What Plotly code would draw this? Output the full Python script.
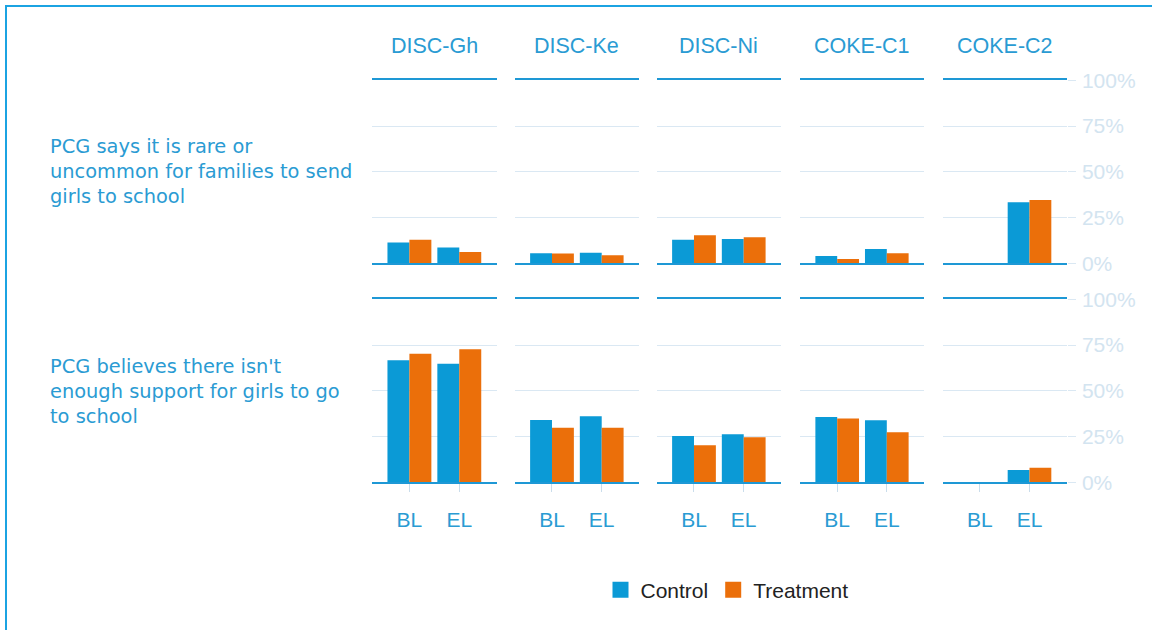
import plotly.graph_objects as go
from plotly.subplots import make_subplots

# Sites shown as facet columns and the two survey rounds on each x axis
sites = ["DISC-Gh", "DISC-Ke", "DISC-Ni", "COKE-C1", "COKE-C2"]
rounds = ["BL", "EL"]
indicators = [
    "PCG says it is rare or<br>uncommon for families to send<br>girls to school",
    "PCG believes there isn't<br>enough support for girls to go<br>to school",
]

# Share of primary caregivers (%), per site: [BL, EL]
rare_control = [[11.3, 8.7], [5.5, 5.8], [12.9, 13.3], [4.0, 7.8], [None, 33.3]]
rare_treatment = [[12.9, 6.2], [5.4, 4.4], [15.3, 14.2], [2.4, 5.5], [None, 34.6]]
support_control = [[66.7, 64.8], [34.0, 36.1], [25.3, 26.2], [35.7, 33.9], [None, 6.7]]
support_treatment = [[70.3, 72.7], [29.8, 29.8], [20.2, 24.6], [34.8, 27.3], [None, 8.0]]

pct_ticks = [0, 25, 50, 75, 100]

BLUE = "#0B9AD6"
ORANGE = "#EB6F0A"
TEXT_BLUE = "#2A9BD3"
LINE_BLUE = "#1E98D5"
PALE = "#DAE8F3"
PALE_TEXT = "#D3E4F0"

W, H = 1152, 630
col_px = [(372, 496.7), (514.7, 639), (656.7, 781), (800, 924), (942.7, 1066.7)]
row_px = [(80.3, 263.3), (299.3, 482.3)]

fig = make_subplots(rows=2, cols=5)

rows_data = [(rare_control, rare_treatment), (support_control, support_treatment)]
for r, (ctrl, trt) in enumerate(rows_data):
    for c in range(5):
        fig.add_trace(go.Bar(x=rounds, y=ctrl[c], marker_color=BLUE, marker_line_width=0,
                             name="Control", showlegend=False), row=r + 1, col=c + 1)
        fig.add_trace(go.Bar(x=rounds, y=trt[c], marker_color=ORANGE, marker_line_width=0,
                             name="Treatment", showlegend=False), row=r + 1, col=c + 1)

# legend entries
for name, color in [("Control", BLUE), ("Treatment", ORANGE)]:
    fig.add_trace(go.Scatter(x=[None], y=[None], mode="markers", name=name,
                             marker=dict(symbol="square", size=16, color=color)),
                  row=2, col=1)

for r in range(2):
    for c in range(5):
        idx = r * 5 + c + 1
        sfx = "" if idx == 1 else str(idx)
        x0, x1 = col_px[c]
        y0, y1 = row_px[r]
        fig.layout["xaxis" + sfx].update(
            domain=[x0 / W, x1 / W],
            type="category", categoryorder="array", categoryarray=rounds,
            range=[-0.75, 1.75],
            showline=True, mirror=True, linecolor=LINE_BLUE, linewidth=2,
            showgrid=False, zeroline=False,
            ticks="outside" if r == 1 else "", ticklen=8, tickcolor="#CADDEB", tickwidth=1,
            showticklabels=(r == 1),
            tickfont=dict(family="Liberation Sans, Arial", size=21, color=TEXT_BLUE),
            ticklabelstandoff=9,
            automargin=False,
            fixedrange=True,
        )
        fig.layout["yaxis" + sfx].update(
            domain=[1 - y1 / H, 1 - y0 / H],
            range=[0, 100],
            tickvals=pct_ticks, ticktext=[f"{v}%" for v in pct_ticks],
            showgrid=True, gridcolor=PALE, gridwidth=1, zeroline=False,
            showline=False,
            side="right",
            ticks="outside" if c == 4 else "", ticklen=8, tickcolor=PALE, tickwidth=1,
            showticklabels=(c == 4),
            tickfont=dict(family="Liberation Sans, Arial", size=21, color=PALE_TEXT),
            ticklabelstandoff=2,
            automargin=False,
            fixedrange=True,
        )

annotations = []
for c, site in enumerate(sites):
    x0, x1 = col_px[c]
    annotations.append(dict(
        text=site, x=(x0 + x1) / 2 / W, y=1 - 46 / H, xref="paper", yref="paper",
        xanchor="center", yanchor="middle", showarrow=False,
        font=dict(family="Liberation Sans, Arial", size=21.5, color=TEXT_BLUE)))

for label, yc in zip(indicators, [172, 391]):
    annotations.append(dict(
        text=label, x=48 / W, y=1 - yc / H, xref="paper", yref="paper",
        xanchor="left", yanchor="middle", align="left", showarrow=False,
        font=dict(family="DejaVu Sans", size=19.4, color=TEXT_BLUE)))

fig.update_layout(
    width=W, height=H,
    margin=dict(l=0, r=0, t=0, b=0, autoexpand=False),
    paper_bgcolor="white", plot_bgcolor="white",
    barmode="group", bargap=0.12, bargroupgap=0,
    annotations=annotations,
    shapes=[dict(type="rect", xref="paper", yref="paper",
                 x0=6 / W, x1=1.05, y0=-0.05, y1=1 - 6 / H,
                 line=dict(color="#1BA3E2", width=2), fillcolor="rgba(0,0,0,0)",
                 layer="above")],
    legend=dict(orientation="h", x=727 / W, y=1 - 590 / H, xanchor="center", yanchor="middle",
                font=dict(family="Liberation Sans, Arial", size=21, color="#222222"),
                itemwidth=30, bgcolor="rgba(0,0,0,0)", tracegroupgap=0),
    font=dict(family="Liberation Sans, Arial"),
)

fig.write_html("out.html")
